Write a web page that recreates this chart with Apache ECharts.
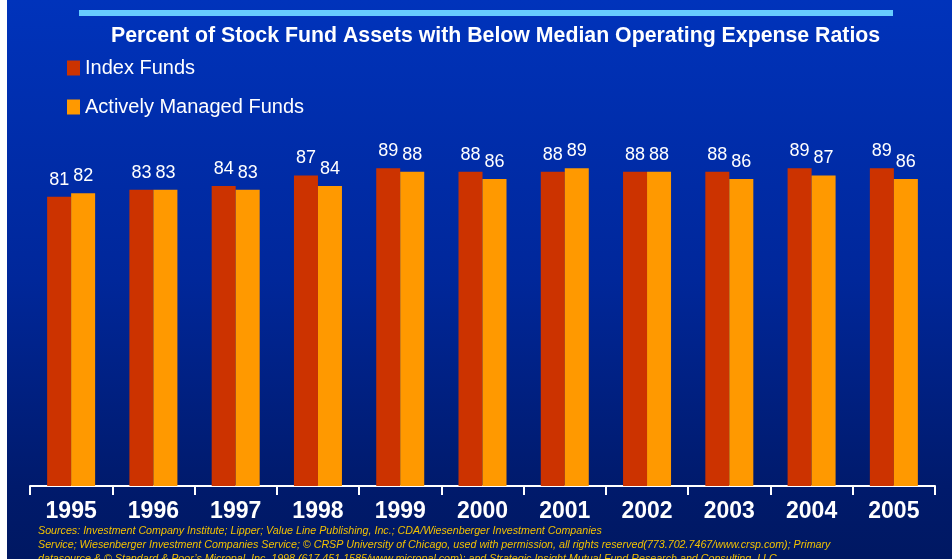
<!DOCTYPE html>
<html>
<head>
<meta charset="utf-8">
<script src="https://cdn.jsdelivr.net/npm/echarts@6/dist/echarts.min.js"></script>
<style>
  html, body { margin: 0; padding: 0; background: #fff; }
  #chart { width: 952px; height: 559px; }
</style>
</head>
<body>
<div id="chart"></div>
<script>
const years = ['1995', '1996', '1997', '1998', '1999', '2000', '2001', '2002', '2003', '2004', '2005'];
const indexFunds = [81, 83, 84, 87, 89, 88, 88, 88, 88, 89, 89];
const activeFunds = [82, 83, 83, 84, 88, 86, 89, 88, 86, 87, 86];
const notes = [
  'Sources: Investment Company Institute; Lipper; Value Line Publishing, Inc.; CDA/Wiesenberger Investment Companies',
  'Service; Wiesenberger Investment Companies Service; \u00a9 CRSP University of Chicago, used with permission, all rights reserved(773.702.7467/www.crsp.com); Primary',
  'datasource & \u00a9 Standard & Poor\u2019s Micropal, Inc. 1998 (617.451.1585/www.micropal.com); and Strategic Insight Mutual Fund Research and Consulting, LLC.'
];

const chart = echarts.init(document.getElementById('chart'));
const font = 'Arial, "Liberation Sans", sans-serif';

const labelStyle = {
  show: true,
  position: 'top',
  distance: 8,
  color: '#fff',
  fontSize: 18,
  fontFamily: font
};

const option = {
  animation: false,
  backgroundColor: new echarts.graphic.LinearGradient(0, 0, 0, 1, [
    { offset: 0, color: '#0033bb' },
    { offset: 0.5, color: '#00279a' },
    { offset: 0.87, color: '#001a6c' },
    { offset: 1, color: '#001862' }
  ]),
  title: {
    text: 'Percent of Stock Fund Assets with Below Median Operating Expense Ratios',
    left: 106,
    top: 21,
    textStyle: { color: '#fff', fontSize: 21.3, fontWeight: 'bold', fontFamily: font }
  },
  legend: {
    orient: 'vertical',
    left: 62,
    top: 53,
    itemWidth: 13,
    itemHeight: 15,
    itemGap: 19,
    icon: 'rect',
    textStyle: { color: '#fff', fontSize: 20, fontFamily: font },
    data: ['Index Funds', 'Actively Managed Funds']
  },
  grid: { left: 30, right: 17, top: 129, bottom: 73 },
  xAxis: {
    type: 'category',
    data: years,
    axisLine: { lineStyle: { color: '#fff', width: 2 } },
    axisTick: { show: true, length: 9, lineStyle: { color: '#fff', width: 2 } },
    axisLabel: { color: '#fff', fontSize: 23, fontWeight: 'bold', fontFamily: font, margin: 14 }
  },
  yAxis: {
    type: 'value',
    min: 0,
    max: 100,
    show: false,
    splitLine: { show: false }
  },
  graphic: [
    { type: 'rect', shape: { x: 0, y: 0, width: 7, height: 559 }, style: { fill: '#fff' }, z: 10 },
    { type: 'rect', shape: { x: 79, y: 10, width: 814, height: 6 }, style: { fill: '#66ccff' } },
    ...notes.map((t, i) => ({
      type: 'text',
      left: 38,
      top: 526 + i * 14,
      style: { text: t, fill: '#f2c200', font: 'italic 10.7px ' + font }
    }))
  ],
  series: [
    {
      name: 'Index Funds',
      type: 'bar',
      data: indexFunds,
      barWidth: 24,
      barGap: '0%',
      itemStyle: { color: '#cc3300' },
      label: labelStyle
    },
    {
      name: 'Actively Managed Funds',
      type: 'bar',
      data: activeFunds,
      barWidth: 24,
      barGap: '0%',
      itemStyle: { color: '#ff9900' },
      label: labelStyle
    }
  ]
};

chart.setOption(option);
</script>
</body>
</html>
